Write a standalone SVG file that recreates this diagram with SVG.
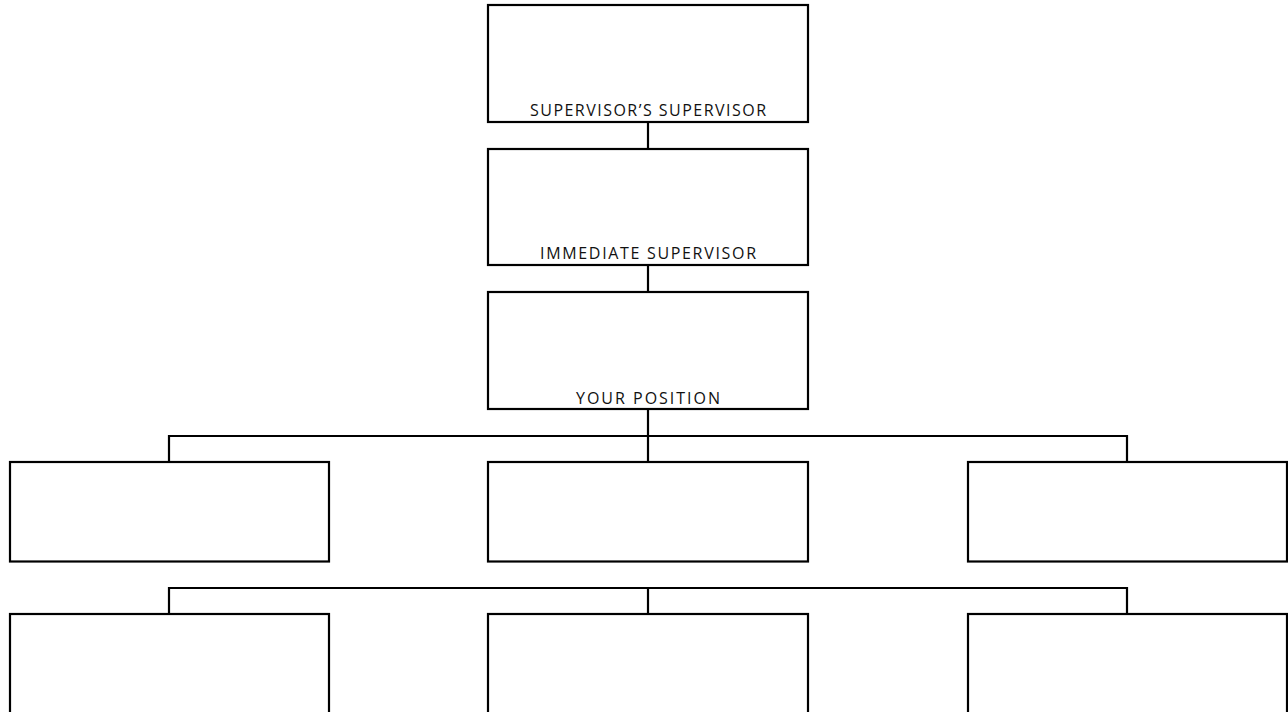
<svg xmlns="http://www.w3.org/2000/svg" width="1288" height="712" viewBox="0 0 1288 712">
<style>
.box{fill:#fff;stroke:#000;stroke-width:2.2}
.ln{fill:none;stroke:#000;stroke-width:2.2}
.lbl{font-family:"Open Sans","Liberation Sans",sans-serif;font-size:16px;fill:#111;text-anchor:middle}
</style>
<rect width="1288" height="712" fill="#fff"/>
<g id="connectors">
<path class="ln" d="M648 122V149"/>
<path class="ln" d="M648 265V292"/>
<path class="ln" d="M648 409V462"/>
<path class="ln" d="M169 462V436H1127V462"/>
<path class="ln" d="M169 614V588H1127V614"/>
<path class="ln" d="M648 588V614"/>
</g>
<g id="n-supsup"><rect class="box" x="488" y="5" width="320" height="117"/><text class="lbl" x="648" y="116" textLength="236" lengthAdjust="spacing">SUPERVISOR’S SUPERVISOR</text></g>
<g id="n-immediate"><rect class="box" x="488" y="149" width="320" height="116"/><text class="lbl" x="648" y="259" textLength="216" lengthAdjust="spacing">IMMEDIATE SUPERVISOR</text></g>
<g id="n-you"><rect class="box" x="488" y="292" width="320" height="117"/><text class="lbl" x="648" y="403.5" textLength="144" lengthAdjust="spacing">YOUR POSITION</text></g>
<g id="n-r1a"><rect class="box" x="10" y="462" width="319" height="99.5"/></g>
<g id="n-r1b"><rect class="box" x="488" y="462" width="320" height="99.5"/></g>
<g id="n-r1c"><rect class="box" x="968" y="462" width="319" height="99.5"/></g>
<g id="n-r2a"><rect class="box" x="10" y="614" width="319" height="120"/></g>
<g id="n-r2b"><rect class="box" x="488" y="614" width="320" height="120"/></g>
<g id="n-r2c"><rect class="box" x="968" y="614" width="319" height="120"/></g>
</svg>
